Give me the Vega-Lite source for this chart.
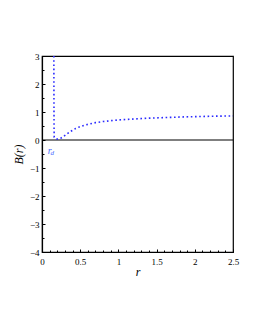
{
  "$schema": "https://vega.github.io/schema/vega-lite/v6.json",
  "width": 191,
  "height": 196,
  "autosize": {"type": "none"},
  "padding": {"left": 42, "top": 56, "right": 22, "bottom": 78},
  "background": "white",
  "config": {
    "view": {"stroke": "black", "strokeWidth": 1.2},
    "font": "Liberation Serif",
    "axis": {"labelFont": "Liberation Serif", "titleFont": "Liberation Serif", "grid": false, "tickColor": "black", "domainColor": "black", "labelColor": "black"}
  },
  "datasets": {
    "curve": [
      {"r": 0.155, "B": 3.0},
      {"r": 0.156, "B": 2.0},
      {"r": 0.157, "B": 1.0},
      {"r": 0.158, "B": 0.4},
      {"r": 0.16, "B": 0.1},
      {"r": 0.18, "B": 0.05},
      {"r": 0.2, "B": 0.03},
      {"r": 0.22, "B": 0.04},
      {"r": 0.25, "B": 0.07},
      {"r": 0.31, "B": 0.18},
      {"r": 0.37, "B": 0.3},
      {"r": 0.44, "B": 0.41},
      {"r": 0.5, "B": 0.48},
      {"r": 0.57, "B": 0.54},
      {"r": 0.62, "B": 0.57},
      {"r": 0.7, "B": 0.62},
      {"r": 0.8, "B": 0.66},
      {"r": 0.9, "B": 0.69},
      {"r": 1.0, "B": 0.715},
      {"r": 1.2, "B": 0.75},
      {"r": 1.4, "B": 0.78},
      {"r": 1.6, "B": 0.8},
      {"r": 1.8, "B": 0.82},
      {"r": 2.0, "B": 0.835},
      {"r": 2.25, "B": 0.85},
      {"r": 2.5, "B": 0.86}
    ],
    "zero": [{"B": 0}],
    "lab": [{"r": 0.1, "B": -0.4, "t": "r"}],
    "sub": [{"r": 0.133, "B": -0.47, "t": "d"}]
  },
  "resolve": {"axis": {"x": "independent", "y": "independent"}},
  "layer": [
    {
      "data": {"name": "zero"},
      "mark": {"type": "rule", "color": "black", "strokeWidth": 1.2},
      "encoding": {
        "y": {
          "field": "B", "type": "quantitative",
          "scale": {"domain": [-4, 3], "nice": false, "zero": false},
          "axis": {
            "orient": "left",
            "title": null,
            "labels": false,
            "domain": false,
            "values": [-3.5,-2.5,-1.5,-0.5,0.5,1.5,2.5],
            "tickSize": -2
          }
        }
      }
    },
    {
      "data": {"name": "lab"},
      "mark": {"type": "text", "color": "#4a6cff", "fontSize": 10, "fontStyle": "italic", "font": "Liberation Serif"},
      "encoding": {
        "x": {
          "field": "r", "type": "quantitative",
          "scale": {"domain": [0, 2.5], "nice": false, "zero": false},
          "axis": {
            "orient": "bottom",
            "title": null,
            "labels": false,
            "domain": false,
            "values": [0.1,0.2,0.3,0.4,0.6,0.7,0.8,0.9,1.1,1.2,1.3,1.4,1.6,1.7,1.8,1.9,2.1,2.2,2.3,2.4],
            "tickSize": -2
          }
        },
        "y": {"field": "B", "type": "quantitative", "axis": null},
        "text": {"field": "t"}
      }
    },
    {
      "data": {"name": "curve"},
      "mark": {"type": "line", "color": "#2b2bff", "strokeWidth": 1.6, "strokeDash": [1.6, 2.6], "clip": true},
      "encoding": {
        "x": {
          "field": "r", "type": "quantitative",
          "scale": {"domain": [0, 2.5], "nice": false, "zero": false},
          "axis": {
            "orient": "bottom",
            "title": "r",
            "titleFontStyle": "italic",
            "titleFontWeight": "normal",
            "titleFontSize": 12,
            "titlePadding": 0,
            "values": [0, 0.5, 1, 1.5, 2, 2.5],
            "format": "~g",
            "labelOverlap": false,
            "tickSize": -3,
            "domainWidth": 1.2,
            "labelFontSize": 9,
            "labelPadding": 8,
            "labelFlush": false
          }
        },
        "y": {
          "field": "B", "type": "quantitative",
          "scale": {"domain": [-4, 3], "nice": false, "zero": false},
          "axis": {
            "orient": "left",
            "title": "B(r)",
            "titleFontStyle": "italic",
            "titleFontWeight": "normal",
            "titleFontSize": 12,
            "titlePadding": 4,
            "values": [-4, -3, -2, -1, 0, 1, 2, 3],
            "format": "~g",
            "labelOverlap": false,
            "tickSize": -3,
            "domainWidth": 1.2,
            "labelFontSize": 9,
            "labelPadding": 6,
            "labelFlush": false
          }
        }
      }
    },
    {
      "data": {"name": "sub"},
      "mark": {"type": "text", "color": "#4a6cff", "fontSize": 7, "fontStyle": "italic", "font": "Liberation Serif"},
      "encoding": {
        "x": {"field": "r", "type": "quantitative", "axis": null},
        "y": {"field": "B", "type": "quantitative", "axis": null},
        "text": {"field": "t"}
      }
    }
  ]
}
